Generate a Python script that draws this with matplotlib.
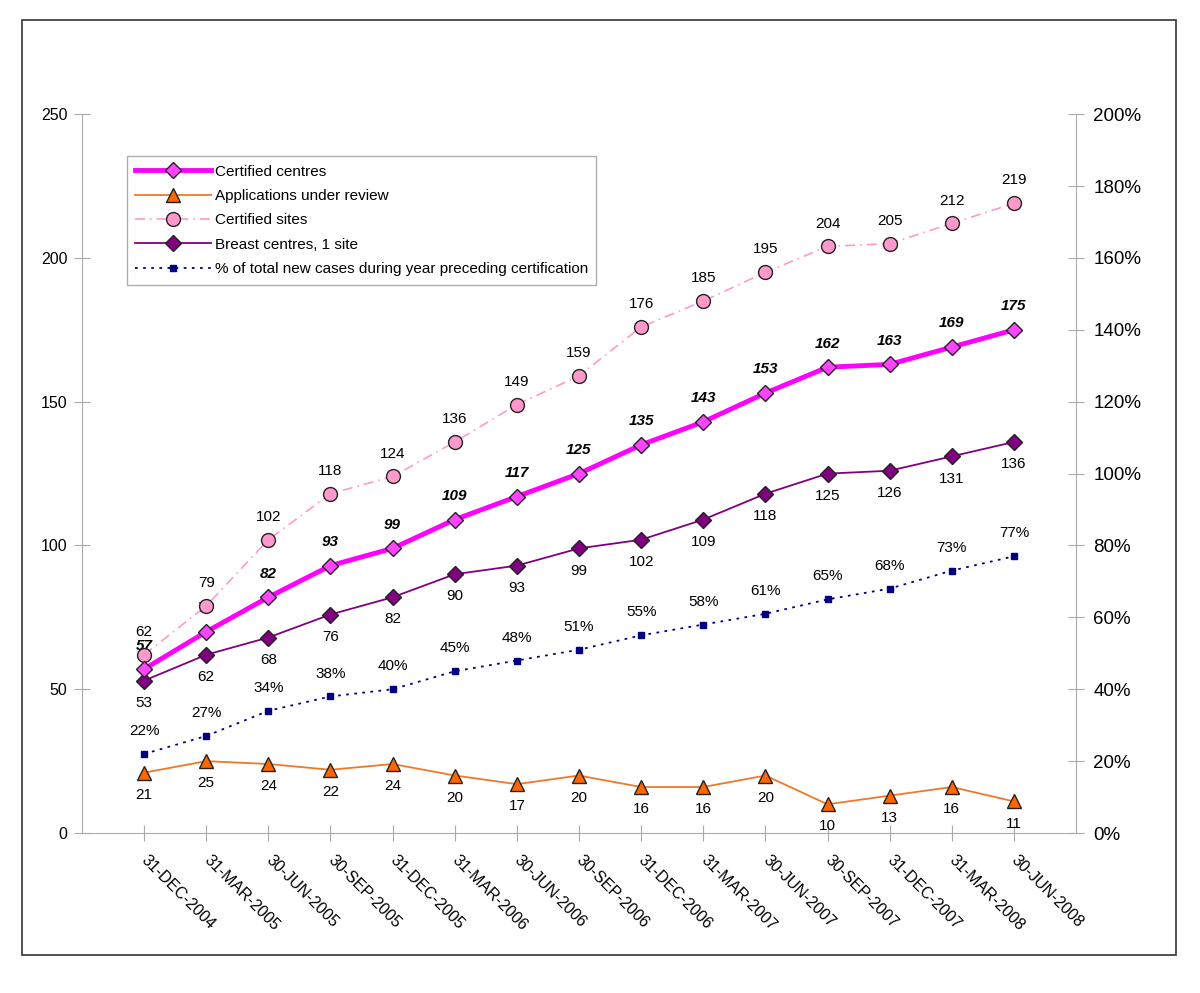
import numpy as np
import matplotlib.pyplot as plt
from matplotlib.patches import Rectangle

plt.rcParams['font.family'] = ['Liberation Sans', 'DejaVu Sans']

dates = ['31-DEC-2004', '31-MAR-2005', '30-JUN-2005', '30-SEP-2005', '31-DEC-2005',
         '31-MAR-2006', '30-JUN-2006', '30-SEP-2006', '31-DEC-2006', '31-MAR-2007',
         '30-JUN-2007', '30-SEP-2007', '31-DEC-2007', '31-MAR-2008', '30-JUN-2008']
centres = [57, 70, 82, 93, 99, 109, 117, 125, 135, 143, 153, 162, 163, 169, 175]
applications = [21, 25, 24, 22, 24, 20, 17, 20, 16, 16, 20, 10, 13, 16, 11]
sites = [62, 79, 102, 118, 124, 136, 149, 159, 176, 185, 195, 204, 205, 212, 219]
one_site = [53, 62, 68, 76, 82, 90, 93, 99, 102, 109, 118, 125, 126, 131, 136]
pct = [22, 27, 34, 38, 40, 45, 48, 51, 55, 58, 61, 65, 68, 73, 77]

fig = plt.figure(figsize=(12, 9.93), dpi=100)
fig.patches.append(Rectangle((0.0183, 0.038), 0.9617, 0.942, transform=fig.transFigure,
                             fill=False, edgecolor='#333333', linewidth=1.2))
ax = fig.add_axes([0.0683, 0.1611, 0.8284, 0.7239])
ax2 = ax.twinx()

x = np.arange(len(dates))

l1, = ax.plot(x, centres, color='#FF00FF', lw=3.5, marker='D', ms=8, mfc='#FF44FF',
              mec='#222222', mew=1, zorder=5, label='Certified centres')
l2, = ax.plot(x, applications, color='#F07828', lw=1.3, marker='^', ms=10, mfc='#FF6600',
              mec='#222222', mew=1, zorder=4, label='Applications under review')
l3, = ax.plot(x, sites, color='#FF99CC', lw=1.2, ls=(0, (6, 3, 1, 3)), marker='o', ms=10,
              mfc='#FF99CC', mec='#222222', mew=1, zorder=4, label='Certified sites')
l4, = ax.plot(x, one_site, color='#800080', lw=1.3, marker='D', ms=8, mfc='#800080',
              mec='#222222', mew=1, zorder=4, label='Breast centres, 1 site')
l5, = ax2.plot(x, pct, color='#000080', lw=1.3, ls=(0, (1.5, 3)), marker='s', ms=5,
               mfc='#000080', mec='#000080', zorder=4,
               label='% of total new cases during year preceding certification')

fs = 11
for i in x:
    ax.annotate(str(centres[i]), (i, centres[i]), xytext=(0, 17), textcoords='offset points',
                ha='center', va='center', fontsize=fs, fontweight='bold', style='italic')
    ax.annotate(str(applications[i]), (i, applications[i]), xytext=(0, -16),
                textcoords='offset points', ha='center', va='center', fontsize=fs)
    ax.annotate(str(sites[i]), (i, sites[i]), xytext=(0, 16.5), textcoords='offset points',
                ha='center', va='center', fontsize=fs)
    ax.annotate(str(one_site[i]), (i, one_site[i]), xytext=(0, -16),
                textcoords='offset points', ha='center', va='center', fontsize=fs)
    ax2.annotate(f'{pct[i]}%', (i, pct[i]), xytext=(0, 16.5), textcoords='offset points',
                 ha='center', va='center', fontsize=fs)

ax.set_xlim(-1, len(dates))
ax.set_ylim(0, 250)
ax.set_yticks(np.arange(0, 251, 50))
ax2.set_ylim(0, 200)
ax2.set_yticks(np.arange(0, 201, 20))
ax2.set_yticklabels([f'{v}%' for v in range(0, 201, 20)])
ax.set_xticks(x)
ax.set_xticklabels(dates, rotation=-45, ha='left', va='center', rotation_mode='anchor',
                   fontsize=11.5)

for a in (ax, ax2):
    for s in a.spines.values():
        s.set_visible(False)
    a.tick_params(axis='y', direction='inout', length=11, color='#AAAAAA')
ax.spines['left'].set_visible(True)
ax.spines['bottom'].set_visible(True)
ax2.spines['right'].set_visible(True)
for s in ('left', 'bottom'):
    ax.spines[s].set_color('#AAAAAA')
ax2.spines['right'].set_color('#AAAAAA')
ax.tick_params(axis='x', direction='inout', length=11, color='#AAAAAA', pad=12)
ax.tick_params(axis='y', pad=5, labelsize=11.5)
ax2.tick_params(axis='y', pad=7, labelsize=13.5)

leg = ax.legend(handles=[l1, l2, l3, l4, l5], loc='upper left',
                bbox_to_anchor=(0.045, 0.9416), borderaxespad=0, fontsize=11,
                frameon=True, fancybox=False, handlelength=5.0, borderpad=0.55,
                labelspacing=0.68, handletextpad=0.2)
leg.get_frame().set_edgecolor('#999999')
leg.get_frame().set_linewidth(1)
leg.set_zorder(10)

fig.savefig('out.png', dpi=100)
